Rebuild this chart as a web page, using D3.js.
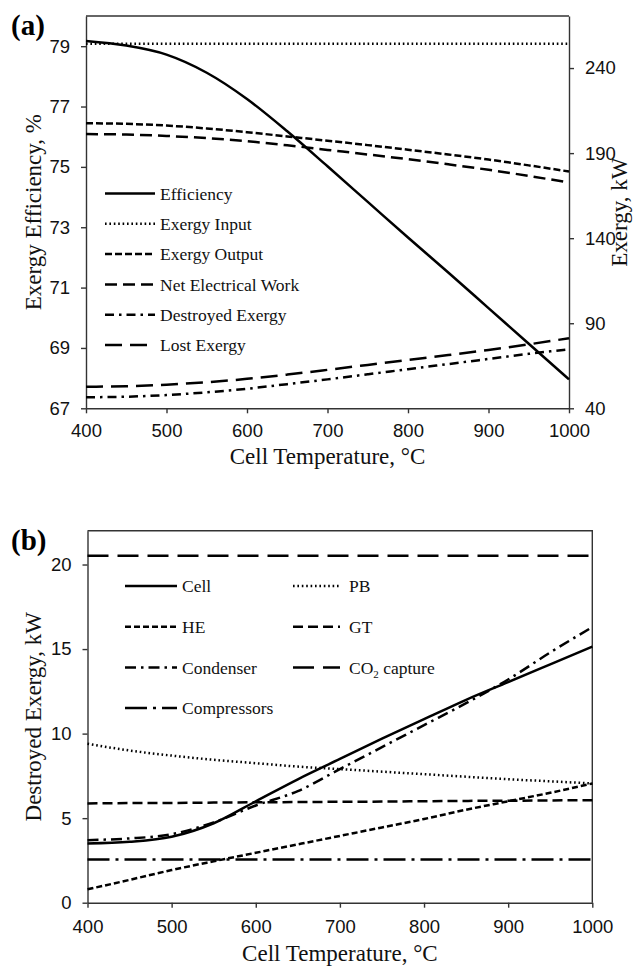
<!DOCTYPE html>
<meta charset="utf-8">
<style>
body { margin: 0; background: #fff; }
svg { font-family: "Liberation Serif", "Times New Roman", serif; }
.axis text { font-size: 18.5px; fill: #111; }
.axis path, .axis line { stroke: #333; stroke-width: 1.4; }
.serie { fill: none; stroke: #000; stroke-width: 2.5; }
.legend text { font-size: 17.5px; fill: #111; }
.title { font-size: 23px; fill: #111; }
.panel { font-size: 29px; font-weight: bold; }
</style>
<body>
<script src="https://cdn.jsdelivr.net/npm/d3@7"></script>
<script>
// cell temperature, °C
var temps = [400, 450, 500, 550, 600, 650, 700, 750, 800, 850, 900, 950, 1000];

// panel (a) - efficiency on left axis (%), the rest on right axis (kW)
var efficiency   = [79.17, 79.02, 78.72, 78.12, 77.25, 76.18, 75.02, 73.84, 72.66, 71.5, 70.32, 69.14, 67.96];
var exergyInput  = [254.3, 254.3, 254.3, 254.3, 254.3, 254.3, 254.3, 254.3, 254.3, 254.3, 254.3, 254.3, 254.3];
var exergyOutput = [207.6, 207.2, 206.2, 204.5, 202.3, 199.8, 197.3, 194.7, 192.0, 189.2, 186.2, 182.8, 179.2];
var netWork      = [201.2, 200.9, 200.1, 198.8, 197.0, 194.6, 191.9, 189.2, 186.4, 183.4, 180.2, 176.6, 172.7];
var destroyed    = [46.5, 46.8, 47.8, 49.4, 51.5, 54.2, 57.0, 60.0, 63.0, 66.0, 69.0, 72.0, 74.7];
var lost         = [52.7, 53.0, 53.9, 55.3, 57.3, 59.8, 62.6, 65.5, 68.4, 71.3, 74.3, 77.6, 81.2];

// panel (b) - destroyed exergy by component, kW
var cell        = [3.5, 3.6, 3.9, 4.7, 6.0, 7.3, 8.5, 9.7, 10.85, 12.0, 13.05, 14.1, 15.15];
var pb          = [9.4, 9.0, 8.7, 8.45, 8.25, 8.05, 7.9, 7.75, 7.6, 7.45, 7.3, 7.18, 7.05];
var he          = [0.79, 1.35, 1.93, 2.45, 2.95, 3.45, 3.95, 4.45, 4.95, 5.5, 6.0, 6.5, 7.05];
var gt          = [5.87, 5.89, 5.9, 5.92, 5.94, 5.95, 5.97, 5.98, 6.0, 6.02, 6.03, 6.05, 6.06];
var condenser   = [3.7, 3.8, 4.05, 4.75, 5.75, 6.6, 7.9, 9.2, 10.5, 11.8, 13.2, 14.8, 16.3];
var co2capture  = [20.52, 20.52, 20.52, 20.52, 20.52, 20.52, 20.52, 20.52, 20.52, 20.52, 20.52, 20.52, 20.52];
var compressors = [2.56, 2.56, 2.56, 2.56, 2.56, 2.56, 2.56, 2.56, 2.56, 2.56, 2.56, 2.56, 2.56];

var xTicks = [400, 500, 600, 700, 800, 900, 1000];
var effTicks = [67, 69, 71, 73, 75, 77, 79];
var kwTicks = [40, 90, 140, 190, 240];
var bTicks = [0, 5, 10, 15, 20];

var fmt = d3.format("d");

var svg = d3.select("body").append("svg")
    .attr("width", 634)
    .attr("height", 967);

function pts(vals) {
  return temps.map(function(t, i) { return [t, vals[i]]; });
}

// ---------- panel (a) ----------
var a = {left: 86, right: 569, top: 16, bottom: 408.3};
var xa = d3.scaleLinear().domain([400, 1000]).range([a.left, a.right]);
var yEff = d3.scaleLinear().domain([67, 80]).range([a.bottom, a.top]);
var yKw = d3.scaleLinear().domain([40, 270.6]).range([a.bottom, a.top]);

// top border
svg.append("line")
    .attr("x1", a.left).attr("x2", a.right)
    .attr("y1", a.top).attr("y2", a.top)
    .attr("stroke", "#333").attr("stroke-width", 1.4);

svg.append("g").attr("class", "axis")
    .attr("transform", "translate(0," + a.bottom + ")")
    .call(d3.axisBottom(xa).tickValues(xTicks).tickFormat(fmt).tickSize(5).tickSizeOuter(0).tickPadding(11));
svg.append("g").attr("class", "axis")
    .attr("transform", "translate(" + a.left + ",0)")
    .call(d3.axisLeft(yEff).tickValues(effTicks).tickFormat(fmt).tickSize(5).tickSizeOuter(0).tickPadding(11));
svg.append("g").attr("class", "axis")
    .attr("transform", "translate(" + a.right + ",0)")
    .call(d3.axisRight(yKw).tickValues(kwTicks).tickFormat(fmt).tickSize(5).tickSizeOuter(0).tickPadding(11));

var seriesA = [
  {name: "Efficiency", vals: efficiency, y: yEff, dash: null},
  {name: "Exergy Input", vals: exergyInput, y: yKw, dash: "1.6,2.8"},
  {name: "Exergy Output", vals: exergyOutput, y: yKw, dash: "7,3"},
  {name: "Net Electrical Work", vals: netWork, y: yKw, dash: "12,6"},
  {name: "Destroyed Exergy", vals: destroyed, y: yKw, dash: "9,5,2.5,5"},
  {name: "Lost Exergy", vals: lost, y: yKw, dash: "17,8"}
];

seriesA.forEach(function(s) {
  var line = d3.line()
      .x(function(d) { return xa(d[0]); })
      .y(function(d) { return s.y(d[1]); })
      .curve(d3.curveMonotoneX);
  svg.append("path")
      .attr("class", "serie")
      .attr("d", line(pts(s.vals)))
      .attr("stroke-dasharray", s.dash);
});

var legA = svg.append("g").attr("class", "legend");
seriesA.forEach(function(s, i) {
  var ly = 193.5 + i * 30.3;
  legA.append("line")
      .attr("x1", 105).attr("x2", 155).attr("y1", ly).attr("y2", ly)
      .attr("stroke", "#000").attr("stroke-width", 2.5)
      .attr("stroke-dasharray", s.dash);
  legA.append("text")
      .attr("x", 160).attr("y", ly).attr("dy", "0.35em")
      .text(s.name);
});

svg.append("text").attr("class", "panel").attr("x", 11).attr("y", 35).text("(a)");
svg.append("text").attr("class", "title")
    .attr("text-anchor", "middle")
    .attr("x", (a.left + a.right) / 2).attr("y", 464)
    .text("Cell Temperature, °C");
svg.append("text").attr("class", "title")
    .attr("text-anchor", "middle")
    .attr("transform", "translate(41," + (a.top + a.bottom) / 2 + ") rotate(-90)")
    .text("Exergy Efficiency, %");
svg.append("text").attr("class", "title")
    .attr("text-anchor", "middle")
    .attr("transform", "translate(627," + (a.top + a.bottom) / 2 + ") rotate(-90)")
    .text("Exergy, kW");

// ---------- panel (b) ----------
var b = {left: 87.5, right: 592.3, top: 530.7, bottom: 902.7};
var xb = d3.scaleLinear().domain([400, 1000]).range([b.left, b.right]);
var yb = d3.scaleLinear().domain([0, 22]).range([b.bottom, b.top]);

svg.append("path")
    .attr("d", "M" + b.left + "," + b.top + "H" + b.right + "V" + b.bottom)
    .attr("fill", "none").attr("stroke", "#333").attr("stroke-width", 1.4);

svg.append("g").attr("class", "axis")
    .attr("transform", "translate(0," + b.bottom + ")")
    .call(d3.axisBottom(xb).tickValues(xTicks).tickFormat(fmt).tickSize(5).tickSizeOuter(0).tickPadding(12.5));
svg.append("g").attr("class", "axis")
    .attr("transform", "translate(" + b.left + ",0)")
    .call(d3.axisLeft(yb).tickValues(bTicks).tickFormat(fmt).tickSize(5).tickSizeOuter(0).tickPadding(11));

var seriesB = [
  {name: "Cell", vals: cell, dash: null, col: 0, row: 0},
  {name: "PB", vals: pb, dash: "1.6,2.8", col: 1, row: 0},
  {name: "HE", vals: he, dash: "6,3", col: 0, row: 1},
  {name: "GT", vals: gt, dash: "10,5", col: 1, row: 1},
  {name: "Condenser", vals: condenser, dash: "11,5,2.5,5", col: 0, row: 2},
  {name: "CO2 capture", vals: co2capture, dash: "21,9", col: 1, row: 2},
  {name: "Compressors", vals: compressors, dash: "22,6,3,6", col: 0, row: 3}
];

var lineB = d3.line()
    .x(function(d) { return xb(d[0]); })
    .y(function(d) { return yb(d[1]); })
    .curve(d3.curveMonotoneX);

seriesB.forEach(function(s) {
  svg.append("path")
      .attr("class", "serie")
      .attr("d", lineB(pts(s.vals)))
      .attr("stroke-dasharray", s.dash);
});

var legB = svg.append("g").attr("class", "legend");
var colX = [[125, 177, 182], [293, 340, 349]];
seriesB.forEach(function(s) {
  var ly = 586 + s.row * 40.7;
  var c = colX[s.col];
  legB.append("line")
      .attr("x1", c[0]).attr("x2", c[1]).attr("y1", ly).attr("y2", ly)
      .attr("stroke", "#000").attr("stroke-width", 2.5)
      .attr("stroke-dasharray", s.dash);
  var t = legB.append("text")
      .attr("x", c[2]).attr("y", ly).attr("dy", "0.35em");
  if (s.name === "CO2 capture") {
    t.append("tspan").text("CO");
    t.append("tspan").attr("font-size", "11px").attr("dy", "4").text("2");
    t.append("tspan").attr("dy", "-4").text(" capture");
  } else {
    t.text(s.name);
  }
});

svg.append("text").attr("class", "panel").attr("x", 11).attr("y", 550).text("(b)");
svg.append("text").attr("class", "title")
    .attr("text-anchor", "middle")
    .attr("x", (b.left + b.right) / 2).attr("y", 961)
    .text("Cell Temperature, °C");
svg.append("text").attr("class", "title")
    .attr("text-anchor", "middle")
    .attr("transform", "translate(41," + (b.top + b.bottom) / 2 + ") rotate(-90)")
    .text("Destroyed Exergy, kW");
</script>
</body>
